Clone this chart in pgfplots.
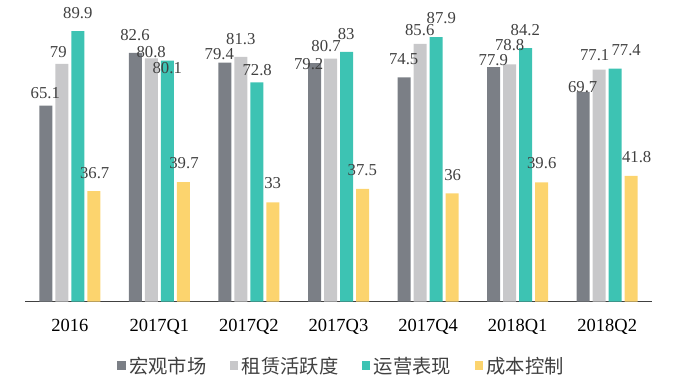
\documentclass[border=0pt]{standalone}
\usepackage{pgfplots}
\pgfplotsset{compat=1.18}
\usepackage{fontspec}
\setmainfont{Liberation Serif}
\newfontfamily\cjk{Noto Sans CJK SC}
\definecolor{cDark}{HTML}{7B7F86}
\definecolor{cLight}{HTML}{C8C8CA}
\definecolor{cTeal}{HTML}{3DC3B3}
\definecolor{cYellow}{HTML}{FCD46E}
\definecolor{cText}{HTML}{404040}
\begin{document}
\begin{tikzpicture}
\useasboundingbox (0,0) rectangle (674bp,382bp);
\begin{axis}[
  at={(25bp,80.3bp)}, anchor=south west,
  scale only axis, width=627bp, height=301.1bp,
  xmin=-0.5, xmax=6.5, ymin=0, ymax=100,
  axis x line*=bottom, hide y axis,
  x axis line style={draw=cText, line width=1.5bp, -},
  xtick={0,1,2,3,4,5,6},
  xticklabels={2016,2017Q1,2017Q2,2017Q3,2017Q4,2018Q1,2018Q2},
  major tick length=0pt,
  xticklabel style={font=\fontsize{18.5bp}{20bp}\selectfont, text=black, yshift=-14bp},
  clip=false,
  legend columns=4,
  legend style={draw=none, fill=none, at={(0.506,-0.2135)}, anchor=center,
    font=\cjk\fontsize{19.3bp}{21bp}\selectfont, text=cText,
    /tikz/every even column/.append style={column sep=20bp},
    nodes={inner xsep=3.5bp}},
  legend image code/.code={\fill[#1] (0bp,-4.5bp) rectangle (8.5bp,4.5bp);},
]
\addplot[ybar, bar width=13bp, bar shift=-24bp, fill=cDark, draw=none] coordinates {(0,65.1) (1,82.6) (2,79.4) (3,79.2) (4,74.5) (5,77.9) (6,69.7)};
\addlegendentry{宏观市场}
\addplot[ybar, bar width=13bp, bar shift=-8bp, fill=cLight, draw=none] coordinates {(0,79) (1,80.8) (2,81.3) (3,80.7) (4,85.6) (5,78.8) (6,77.1)};
\addlegendentry{租赁活跃度}
\addplot[ybar, bar width=13bp, bar shift=8bp, fill=cTeal, draw=none] coordinates {(0,89.9) (1,80.1) (2,72.8) (3,83) (4,87.9) (5,84.2) (6,77.4)};
\addlegendentry{运营表现}
\addplot[ybar, bar width=13bp, bar shift=24bp, fill=cYellow, draw=none] coordinates {(0,36.7) (1,39.7) (2,33) (3,37.5) (4,36) (5,39.6) (6,41.8)};
\addlegendentry{成本控制}
\addplot[forget plot, only marks, mark=none, nodes near coords, point meta=explicit symbolic,
  every node near coord/.append style={anchor=center, inner sep=0pt, text=cText,
    font=\fontsize{16.7bp}{18bp}\selectfont}]
  table[meta=label] {
x y label
-0.273 69.4 65.1
-0.128 82.8 79
0.0895 96.0 89.9
0.278 42.6 36.7
0.728 88.7 82.6
0.909 82.9 80.8
1.088 77.6 80.1
1.275 46.0 39.7
1.669 82.1 79.4
1.909 87.3 81.3
2.092 76.9 72.8
2.265 39.3 33
2.667 78.8 79.2
2.861 85.0 80.7
3.086 89.0 83
3.266 43.7 37.5
3.728 80.7 74.5
3.907 90.1 85.6
4.148 94.1 87.9
4.275 42.0 36
4.728 80.1 77.9
4.911 85.1 78.8
5.086 90.3 84.2
5.269 45.9 39.6
5.726 71.4 69.7
5.860 82.0 77.1
6.212 83.6 77.4
6.329 47.9 41.8
};
\end{axis}
\end{tikzpicture}
\end{document}
